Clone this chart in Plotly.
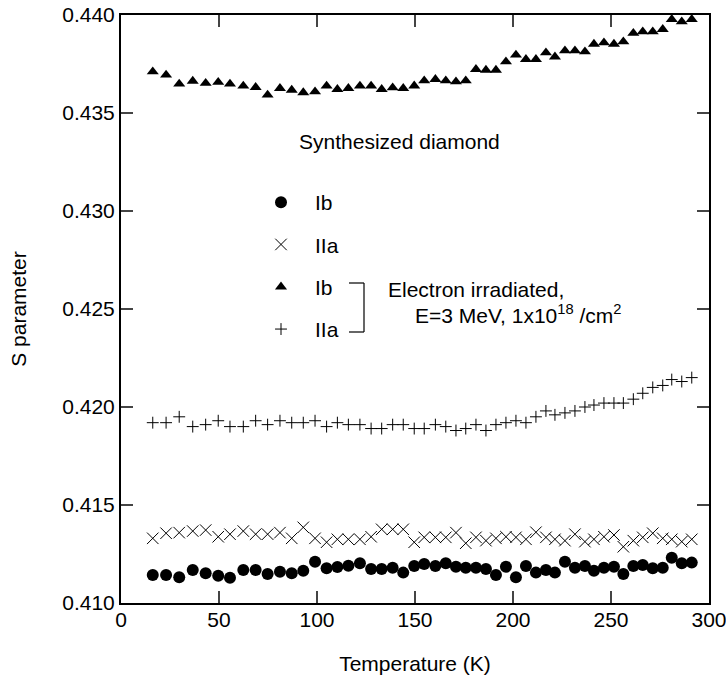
import plotly.graph_objects as go

temperature = [16.2, 23.0, 29.7, 36.6, 43.2, 49.6, 55.6, 62.4, 68.7, 74.8,
               81.1, 87.1, 93.0, 99.0, 104.9, 110.4, 116.0, 121.9, 127.6, 133.0,
               138.6, 144.0, 149.6, 154.7, 160.4, 165.7, 170.9, 175.9, 181.1, 186.2,
               191.3, 196.4, 201.5, 206.6, 211.7, 216.8, 221.4, 226.5, 231.6, 236.7,
               241.3, 246.4, 251.5, 256.3, 261.4, 266.2, 271.3, 276.4, 281.0, 286.1,
               291.2]

s_ib = [0.41143, 0.41143, 0.41131, 0.41168, 0.41152, 0.41139, 0.41129, 0.41168, 0.41168, 0.41148,
        0.41160, 0.41152, 0.41165, 0.41211, 0.41177, 0.41184, 0.41190, 0.41203, 0.41173, 0.41173,
        0.41180, 0.41155, 0.41189, 0.41199, 0.41189, 0.41203, 0.41185, 0.41180, 0.41180, 0.41173,
        0.41143, 0.41185, 0.41131, 0.41189, 0.41155, 0.41168, 0.41155, 0.41211, 0.41180, 0.41189,
        0.41165, 0.41180, 0.41185, 0.41148, 0.41189, 0.41194, 0.41177, 0.41180, 0.41231, 0.41203,
        0.41206]

s_iia = [0.41330, 0.41356, 0.41359, 0.41367, 0.41372, 0.41338, 0.41351, 0.41367, 0.41351, 0.41351,
         0.41359, 0.41330, 0.41386, 0.41330, 0.41310, 0.41325, 0.41325, 0.41325, 0.41338, 0.41376,
         0.41376, 0.41376, 0.41310, 0.41335, 0.41335, 0.41335, 0.41359, 0.41305, 0.41335, 0.41318,
         0.41330, 0.41338, 0.41335, 0.41325, 0.41361, 0.41335, 0.41325, 0.41318, 0.41351, 0.41313,
         0.41325, 0.41338, 0.41347, 0.41287, 0.41318, 0.41335, 0.41356, 0.41330, 0.41325, 0.41313,
         0.41325]

s_ib_irr = [0.43711, 0.43694, 0.43648, 0.43663, 0.43652, 0.43657, 0.43648, 0.43638, 0.43631, 0.43592,
            0.43626, 0.43617, 0.43604, 0.43609, 0.43638, 0.43621, 0.43626, 0.43638, 0.43638, 0.43621,
            0.43629, 0.43626, 0.43639, 0.43665, 0.43672, 0.43665, 0.43660, 0.43665, 0.43723, 0.43719,
            0.43719, 0.43762, 0.43796, 0.43774, 0.43774, 0.43808, 0.43787, 0.43818, 0.43818, 0.43813,
            0.43852, 0.43859, 0.43852, 0.43864, 0.43907, 0.43915, 0.43915, 0.43927, 0.43978, 0.43966,
            0.43978]

s_iia_irr = [0.4192, 0.4192, 0.4195, 0.4190, 0.4191, 0.4193, 0.4190, 0.4190, 0.4193, 0.4191,
             0.4193, 0.4192, 0.4192, 0.4193, 0.4190, 0.4192, 0.4191, 0.4191, 0.4189, 0.4189,
             0.4191, 0.4191, 0.4189, 0.4189, 0.4191, 0.4190, 0.4188, 0.4189, 0.4191, 0.4188,
             0.4191, 0.4192, 0.4193, 0.4192, 0.4195, 0.4198, 0.4196, 0.4197, 0.4198, 0.4200,
             0.4201, 0.4202, 0.4202, 0.4202, 0.4204, 0.4207, 0.4210, 0.4211, 0.4214, 0.4213,
             0.4215]

series_names = ["Ib", "IIa", "Ib", "IIa"]
x_ticks = [0, 50, 100, 150, 200, 250, 300]
y_ticks = [0.410, 0.415, 0.420, 0.425, 0.430, 0.435, 0.440]

FONT = "Arial, Liberation Sans, Helvetica, sans-serif"
FS = 21

fig = go.Figure()
fig.add_trace(go.Scatter(x=temperature, y=s_ib, mode="markers", name=series_names[0],
                         legendgroup="a",
                         marker=dict(symbol="circle", size=12, color="black")))
fig.add_trace(go.Scatter(x=temperature, y=s_iia, mode="markers", name=series_names[1],
                         legendgroup="b",
                         marker=dict(symbol="x-thin", size=11.5, color="black",
                                     line=dict(width=1, color="black"))))
fig.add_trace(go.Scatter(x=temperature, y=s_ib_irr, mode="markers", name=series_names[2],
                         legendgroup="c",
                         marker=dict(symbol="triangle-up", size=10.5, color="black")))
fig.add_trace(go.Scatter(x=temperature, y=s_iia_irr, mode="markers", name=series_names[3],
                         legendgroup="d",
                         marker=dict(symbol="cross-thin", size=8.5, color="black",
                                     line=dict(width=1, color="black"))))

def px_x(p):
    return (p - 121) / 588.0

def px_y(p):
    return (603 - p) / 588.0

fig.update_layout(
    width=726, height=682,
    margin=dict(l=121, r=17, t=15, b=79, autoexpand=False),
    paper_bgcolor="white", plot_bgcolor="white",
    font=dict(family=FONT, size=FS, color="black"),
    showlegend=True,
    legend=dict(x=px_x(247), y=px_y(182), xanchor="left", yanchor="top",
                bgcolor="rgba(0,0,0,0)", borderwidth=0,
                font=dict(family=FONT, size=FS, color="black"),
                tracegroupgap=12, itemwidth=58, itemsizing="trace"),
    xaxis=dict(range=[0, 300], tickvals=x_ticks, ticks="inside", ticklen=12,
               tickwidth=2, showline=True, linewidth=2, linecolor="black",
               mirror="ticks", showgrid=False, zeroline=False,
               automargin=False, ticklabeloverflow="allow", ticklabelstandoff=-3,
               tickfont=dict(family=FONT, size=FS),
               title=dict(text="Temperature (K)", font=dict(family=FONT, size=FS),
                          standoff=26)),
    yaxis=dict(range=[0.410, 0.440], tickvals=y_ticks, tickformat=".3f",
               ticks="inside", ticklen=12, tickwidth=2,
               showline=True, linewidth=2, linecolor="black", mirror="ticks",
               showgrid=False, zeroline=False,
               automargin=False, ticklabeloverflow="allow",
               tickfont=dict(family=FONT, size=FS),
               title=dict(text="S parameter", font=dict(family=FONT, size=FS),
                          standoff=30)),
)

fig.add_annotation(x=px_x(399), y=px_y(142), xref="paper", yref="paper",
                   text="Synthesized diamond", showarrow=False,
                   font=dict(family=FONT, size=FS), xanchor="center", yanchor="middle")
fig.add_annotation(x=px_x(386), y=px_y(289), xref="paper", yref="paper",
                   text="Electron irradiated,", showarrow=False,
                   font=dict(family=FONT, size=FS), xanchor="left", yanchor="middle")
fig.add_annotation(x=px_x(413), y=px_y(314), xref="paper", yref="paper",
                   text="E=3 MeV, 1x10<sup>18</sup> /cm<sup>2</sup>", showarrow=False,
                   font=dict(family=FONT, size=FS), xanchor="left", yanchor="middle")

# bracket
for (x0, y0, x1, y1) in [(349, 283, 364, 283), (364, 283, 364, 332), (349, 332, 364, 332)]:
    fig.add_shape(type="line", xref="paper", yref="paper",
                  x0=px_x(x0), y0=px_y(y0), x1=px_x(x1), y1=px_y(y1),
                  line=dict(color="black", width=1.2))

fig.write_html("out.html")
